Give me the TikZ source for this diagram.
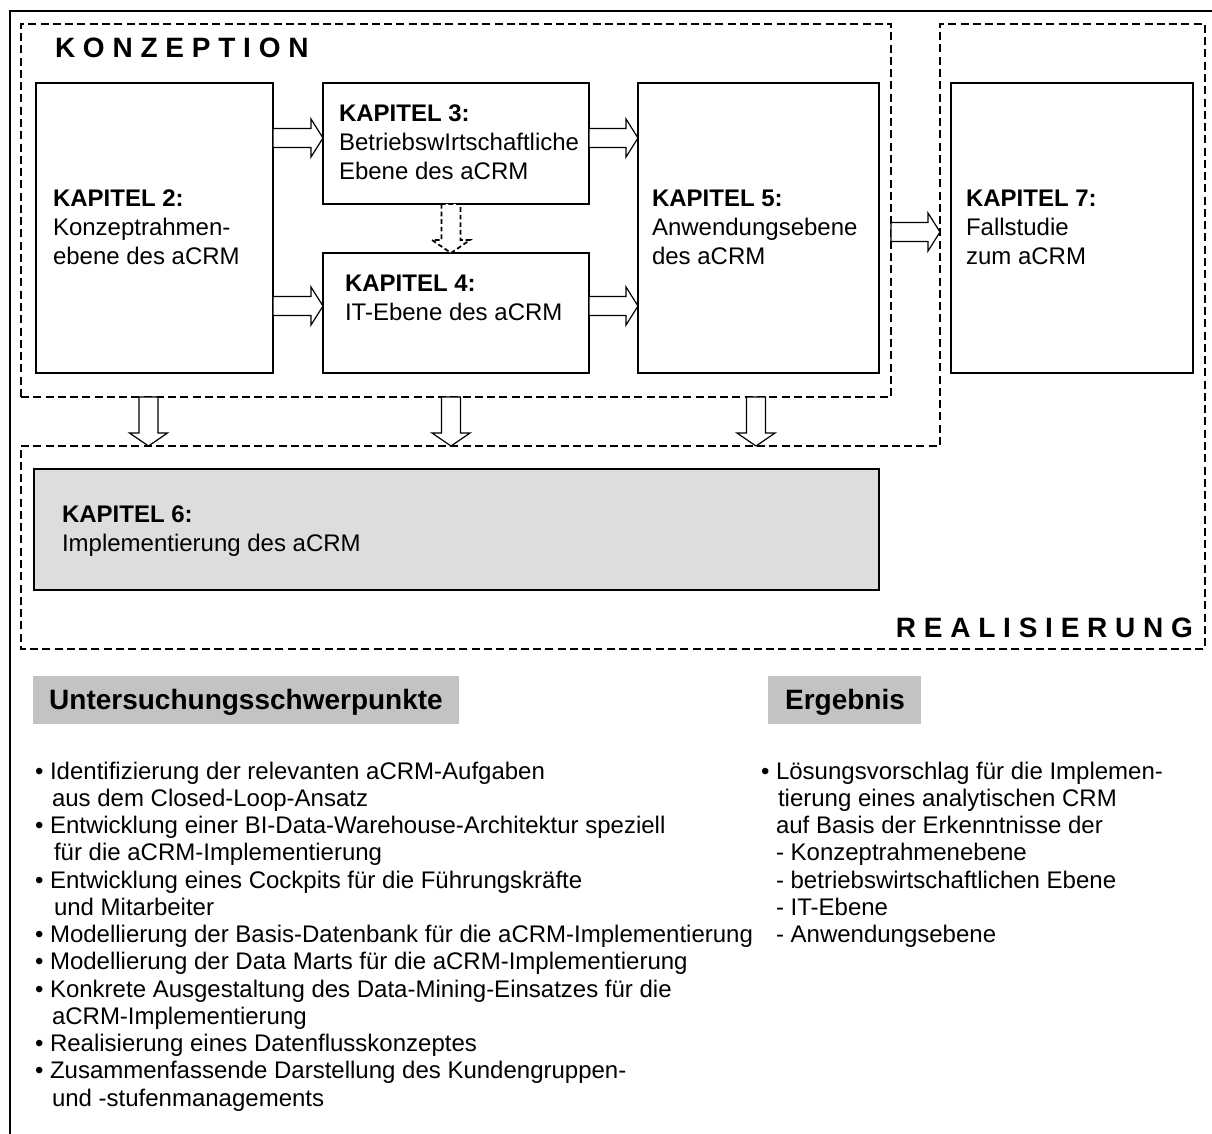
\documentclass[tikz,border=0pt]{standalone}
\usepackage{fontspec}
\setmainfont{Liberation Sans}
\usetikzlibrary{calc,fit}

% right-pointing block arrow: #1 tail point, #2 tip point
\newcommand\blockright[3][blockarrow]{%
  \draw[#1] ($#2+(0,-9.5)$) -- ($#3+(-12,-9.5)$) -- ($#3+(-12,-19)$) -- #3
    -- ($#3+(-12,19)$) -- ($#3+(-12,9.5)$) -- ($#2+(0,9.5)$) -- cycle;}
% downward block arrow: #1 tail point, #2 tip point
\newcommand\blockdown[3][blockarrow]{%
  \draw[#1] ($#2+(-9.5,0)$) -- ($#3+(-9.5,-13)$) -- ($#3+(-19,-13)$) -- #3
    -- ($#3+(19,-13)$) -- ($#3+(9.5,-13)$) -- ($#2+(9.5,0)$) -- cycle;}

\definecolor{chapgray}{HTML}{DDDDDD}
\definecolor{headgray}{HTML}{C3C3C3}

\begin{document}
\begin{tikzpicture}[x=0.75pt,y=-0.75pt,
  every node/.style={inner sep=0pt, outer sep=0pt},
  box/.style={draw, line width=1.05pt},
  graybox/.style={box, fill=chapgray},
  headbox/.style={fill=headgray},
  dashbox/.style={draw, line width=1.8pt, dash pattern=on 6pt off 3.2pt},
  blockarrow/.style={draw, fill=white, line width=0.9pt, line join=miter},
  dasharrow/.style={draw, fill=white, line width=1.3pt, dash pattern=on 3.5pt off 2.2pt},
  body/.style={font=\fontsize{18}{22}\selectfont, anchor=base west},
  head/.style={font=\bfseries\fontsize{21}{25}\selectfont, anchor=base},
  spaced/.style={font=\bfseries\fontsize{21}{25}\selectfont},
]
\useasboundingbox (0,0) rectangle (1212,1133);

% outer frame (open to the right and bottom)
\draw[line width=1pt] (10,1140) -- (10,11) -- (1220,11);

% phase frames
\node[dashbox, fit={(21,24) (891,397)}] (konz) {};
\draw[dashbox] (21,446) coordinate (rtl) -- (940,446) -- (940,24) coordinate (rw)
  -- (1205,24) -- (1205,649) -- (21,649) -- cycle;
\coordinate (rtop) at (0,446);

\node[spaced, anchor=base west] (konzlabel) at (55,57) {K O N Z E P T I O N};
\node[spaced, anchor=base east] (reallabel) at (1193,637) {R E A L I S I E R U N G};

% chapter boxes
\node[box, fit={(36,83) (273,373)}] (k2) {};
\node[box, fit={(323,83) (589,204)}] (k3) {};
\node[box, fit={(323,253) (589,373)}] (k4) {};
\node[box, fit={(638,83) (879,373)}] (k5) {};
\node[box, fit={(951,83) (1193,373)}] (k7) {};
\node[graybox, fit={(34,469) (879,590)}] (k6) {};

% chapter texts
\node[body] (k2a) at (53,206) {\textbf{KAPITEL 2:}};
\node[body] (k2b) at (53,235) {Konzeptrahmen-};
\node[body] (k2c) at (53,264) {ebene des aCRM};

\node[body] (k3a) at (339,121) {\textbf{KAPITEL 3:}};
\node[body] (k3b) at (339,150) {BetriebswIrtschaftliche};
\node[body] (k3c) at (339,179) {Ebene des aCRM};

\node[body] (k4a) at (345,291) {\textbf{KAPITEL 4:}};
\node[body] (k4b) at (345,320) {IT-Ebene des aCRM};

\node[body] (k5a) at (652,206) {\textbf{KAPITEL 5:}};
\node[body] (k5b) at (652,235) {Anwendungsebene};
\node[body] (k5c) at (652,264) {des aCRM};

\node[body] (k7a) at (966,206) {\textbf{KAPITEL 7:}};
\node[body] (k7b) at (966,235) {Fallstudie};
\node[body] (k7c) at (966,264) {zum aCRM};

\node[body] (k6a) at (62,522) {\textbf{KAPITEL 6:}};
\node[body] (k6b) at (62,551) {Implementierung des aCRM};

% flow arrows
\coordinate (r1) at (0,138);
\coordinate (r2) at (0,306);
\coordinate (r3) at (0,232);
\blockright{(k2.east |- r1)}{(k3.west |- r1)}
\blockright{(k2.east |- r2)}{(k4.west |- r2)}
\blockright{(k3.east |- r1)}{(k5.west |- r1)}
\blockright{(k4.east |- r2)}{(k5.west |- r2)}
\blockright{(konz.east |- r3)}{(rw |- r3)}

\coordinate (c1) at (148.5,0);
\coordinate (c2) at (451,0);
\coordinate (c3) at (756,0);
\blockdown[dasharrow]{(c2 |- k3.south)}{(c2 |- k4.north)}
\blockdown{(c1 |- konz.south)}{(c1 |- rtop)}
\blockdown{(c2 |- konz.south)}{(c2 |- rtop)}
\blockdown{(c3 |- konz.south)}{(c3 |- rtop)}

% headings
\node[headbox, fit={(33,676) (459,724)}] (h1) {};
\node[head] (h1t) at (246,709) {Untersuchungsschwerpunkte};
\node[headbox, fit={(768,676) (921,724)}] (h2) {};
\node[head] (h2t) at (845,709) {Ergebnis};

% focus list
\foreach \px/\tx [count=\i from 0] in {
  35/{\textbullet\ Identifizierung der relevanten aCRM-Aufgaben},
  52/{aus dem Closed-Loop-Ansatz},
  35/{\textbullet\ Entwicklung einer BI-Data-Warehouse-Architektur speziell},
  54/{für die aCRM-Implementierung},
  35/{\textbullet\ Entwicklung eines Cockpits für die Führungskräfte},
  54/{und Mitarbeiter},
  35/{\textbullet\ Modellierung der Basis-Datenbank für die aCRM-Implementierung},
  35/{\textbullet\ Modellierung der Data Marts für die aCRM-Implementierung},
  35/{\textbullet\ Konkrete Ausgestaltung des Data-Mining-Einsatzes für die},
  52/{aCRM-Implementierung},
  35/{\textbullet\ Realisierung eines Datenflusskonzeptes},
  35/{\textbullet\ Zusammenfassende Darstellung des Kundengruppen-},
  52/{und -stufenmanagements}}
  \node[body] (la\i) at (\px,{779+27.25*\i}) {\tx};

% result list
\foreach \px/\tx [count=\i from 0] in {
  761/{\textbullet\ Lösungsvorschlag für die Implemen-},
  778/{tierung eines analytischen CRM},
  776/{auf Basis der Erkenntnisse der},
  776/{- Konzeptrahmenebene},
  776/{- betriebswirtschaftlichen Ebene},
  776/{- IT-Ebene},
  776/{- Anwendungsebene}}
  \node[body] (lb\i) at (\px,{779+27.25*\i}) {\tx};
\end{tikzpicture}
\end{document}
